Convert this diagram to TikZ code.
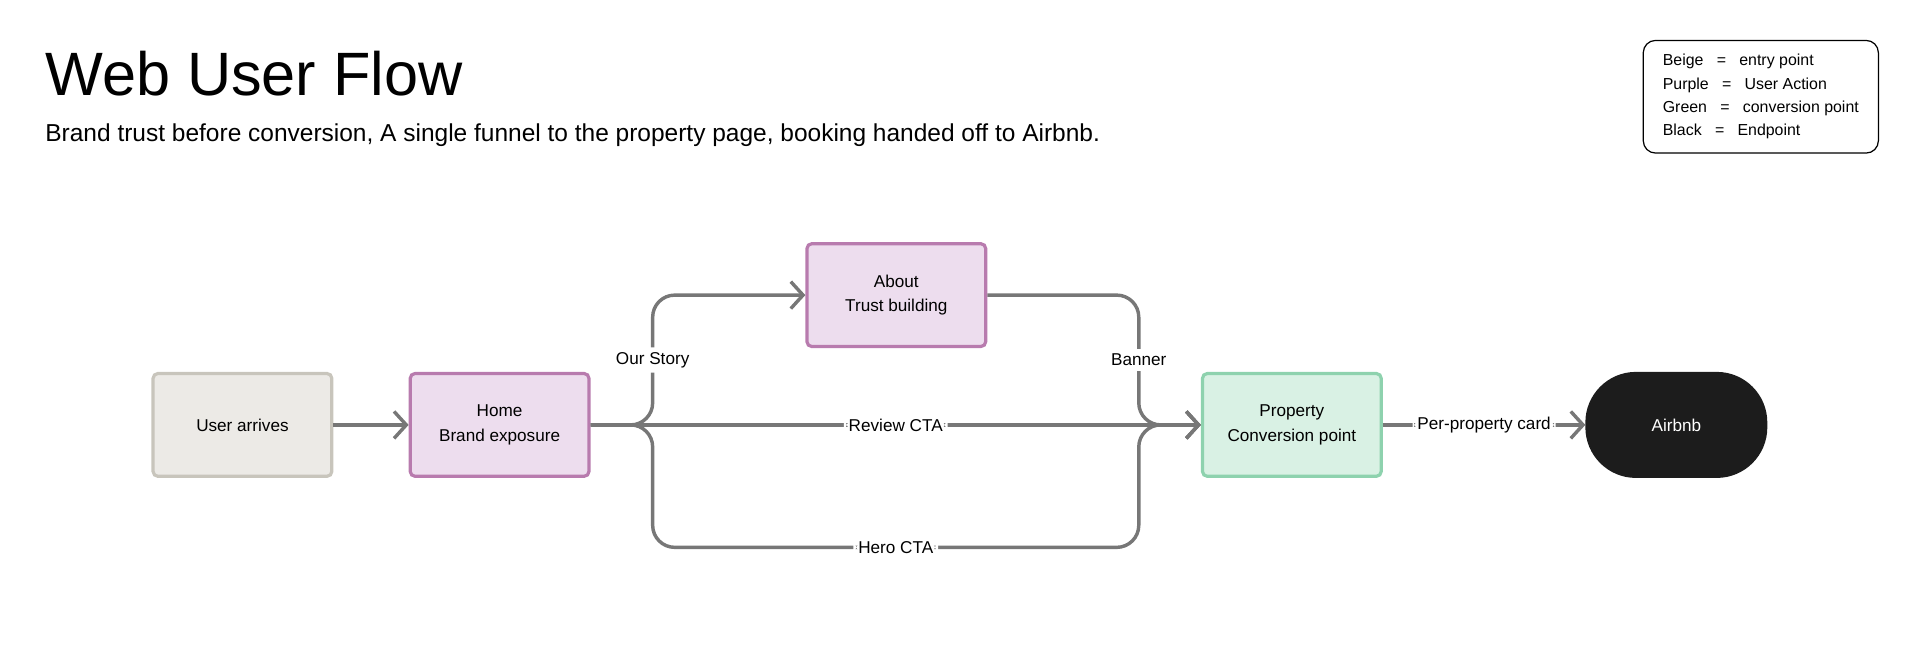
\documentclass[tikz,border=0pt]{standalone}
\usepackage{fontspec}
\setmainfont{Liberation Sans}
\usetikzlibrary{arrows.meta}
\definecolor{linegray}{HTML}{777777}
\tikzstyle{entry} = [rectangle, rounded corners=2pt, minimum width=73pt, minimum height=42pt, align=center, font=\fontsize{7}{10}\selectfont, fill={rgb,255:red,236;green,234;blue,230}, draw={rgb,255:red,200;green,197;blue,188}, line width=1.3pt]
\tikzstyle{action} = [entry, fill={rgb,255:red,237;green,221;blue,238}, draw={rgb,255:red,184;green,123;blue,174}]
\tikzstyle{convert} = [entry, fill={rgb,255:red,217;green,241;blue,228}, draw={rgb,255:red,142;green,210;blue,174}]
\tikzstyle{endpoint} = [entry, rounded corners=20pt, fill={rgb,255:red,28;green,28;blue,28}, draw={rgb,255:red,28;green,28;blue,28}, text=white]
\tikzstyle{arrow} = [draw=linegray, line width=1.4pt, rounded corners=9pt, -{Straight Barb[length=5pt,width=11pt,line width=1.4pt]}]
\tikzstyle{lbl} = [fill=white, font=\fontsize{7}{9}\selectfont, inner sep=2pt]

\begin{document}
\begin{tikzpicture}[x=0.5pt, y=-0.5pt]
  \useasboundingbox (0,0) rectangle (1568,537);
  \node [anchor=west, font=\fontsize{25}{30}\selectfont] at (30,60) (title) {Web User Flow};
  \node [anchor=west, font=\fontsize{10}{12}\selectfont] at (30,110) (subtitle) {Brand trust before conversion, A single funnel to the property page, booking handed off to Airbnb.};
  \node [draw, rounded corners=5pt, line width=0.5pt, minimum width=96pt, minimum height=46pt, align=left, font=\fontsize{6.5}{9.5}\selectfont] at (1438,79) (legend) {Beige \ \ = \ \ entry point\\Purple \ \ = \ \ User Action\\Green \ \ = \ \ conversion point\\Black \ \ = \ \ Endpoint};

  \node [entry] at (198,347) (user) {User arrives};
  \node [action] at (408,347) (home) {Home\\Brand exposure};
  \node [action] at (732,241) (about) {About\\Trust building};
  \node [convert] at (1055,347) (property) {Property\\Conversion point};
  \node [endpoint] at (1369,347) (airbnb) {Airbnb};

  \draw [arrow] (user) -- (home);
  \draw [arrow] (home.east) -- (533,347) |- node[lbl, pos=0.25] {Our Story} (about.west);
  \draw [arrow] (home.east) -- node[lbl, pos=0.5] {Review CTA} (property.west);
  \draw [arrow] (home.east) -- (533,347) |- node[lbl, pos=0.75] {Hero CTA} (930,447) |- (property.west);
  \draw [arrow] (about.east) -| node[lbl, pos=0.75] {Banner} (930,347) -- (property.west);
  \draw [arrow] (property) -- node[lbl] {Per-property card} (airbnb);
\end{tikzpicture}
\end{document}
